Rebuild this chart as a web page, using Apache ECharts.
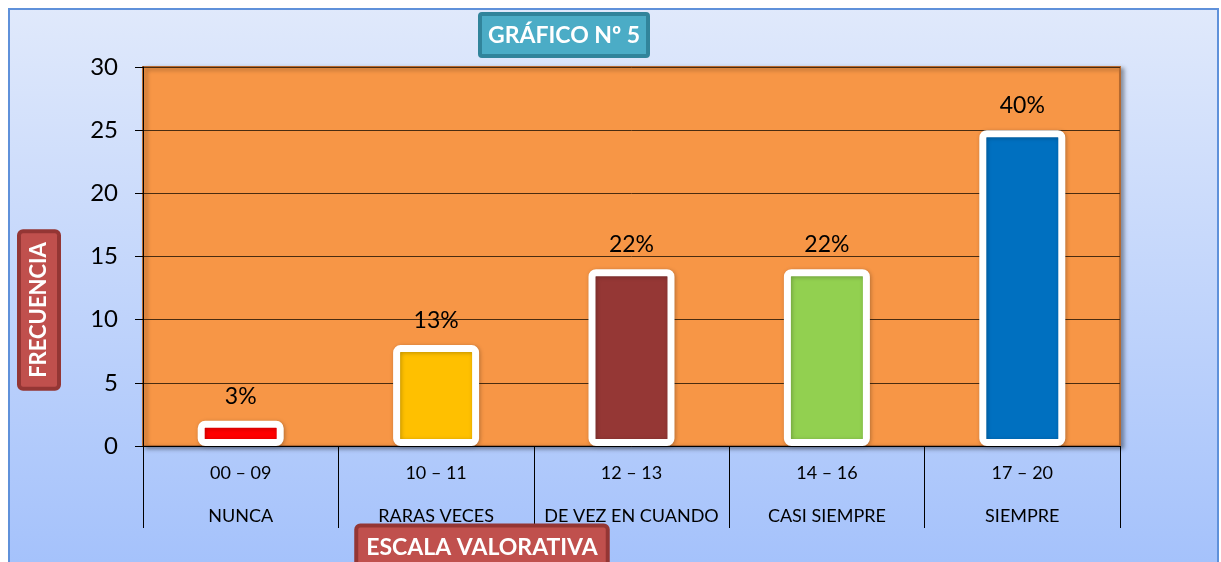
<!DOCTYPE html>
<html>
<head>
<meta charset="utf-8">
<script src="https://cdn.jsdelivr.net/npm/echarts@6/dist/echarts.min.js"></script>
<style>
html,body{margin:0;padding:0;background:#fff;}
#main{width:1221px;height:562px;}
</style>
</head>
<body>
<div id="main"></div>
<script>
const rangeCodes = ['00 – 09', '10 – 11', '12 – 13', '14 – 16', '17 – 20'];
const scaleNames = ['NUNCA', 'RARAS VECES', 'DE VEZ EN CUANDO', 'CASI SIEMPRE', 'SIEMPRE'];
const frequencies = [2, 8, 14, 14, 25];
const percentLabels = ['3%', '13%', '22%', '22%', '40%'];
const barColors = ['#FF0000', '#FFC000', '#953735', '#92D050', '#0070C0'];
const yTicks = [0, 5, 10, 15, 20, 25, 30];

const FONT = 'Lato, "Open Sans", sans-serif';
const chart = echarts.init(document.getElementById('main'));

const categories = rangeCodes.map((c, i) => c + '\n' + scaleNames[i]);

chart.setOption({
  animation: false,
  backgroundColor: '#ffffff',
  textStyle: { fontFamily: FONT },
  title: {
    text: 'GRÁFICO Nº 5',
    left: 480,
    top: 14,
    backgroundColor: '#4BACC6',
    borderColor: '#31849B',
    borderWidth: 4,
    borderRadius: 2,
    padding: [10, 8, 9, 8],
    textStyle: { color: '#ffffff', fontSize: 23, fontWeight: 'bold', fontFamily: FONT }
  },
  grid: {
    left: 143, right: 101, top: 67, bottom: 116,
    show: true,
    backgroundColor: '#F79646',
    borderColor: '#B5692F',
    borderWidth: 2,
    shadowColor: 'rgba(0,0,0,0.35)',
    shadowBlur: 4,
    shadowOffsetX: 3,
    shadowOffsetY: 2
  },
  xAxis: {
    type: 'category',
    data: categories,
    axisLine: { show: true, lineStyle: { color: '#000', width: 1 } },
    axisTick: { show: true, length: 82, interval: 0, lineStyle: { color: '#000', width: 1 } },
    axisLabel: {
      interval: 0,
      margin: 6,
      color: '#000',
      fontSize: 18,
      lineHeight: 43,
      fontFamily: FONT
    }
  },
  yAxis: {
    type: 'value',
    min: yTicks[0],
    max: yTicks[yTicks.length - 1],
    interval: 5,
    axisLine: { show: true, lineStyle: { color: '#000', width: 1 } },
    axisTick: { show: true, length: 8, lineStyle: { color: '#000' } },
    axisLabel: { color: '#000', fontSize: 24, margin: 25, fontFamily: FONT },
    splitLine: { show: true, lineStyle: { color: '#4a2c10', width: 1 } }
  },
  series: [{
    type: 'bar',
    barWidth: 86,
    data: frequencies.map((v, i) => ({
      value: v,
      itemStyle: { color: barColors[i] },
      label: { formatter: percentLabels[i] }
    })),
    itemStyle: {
      borderColor: '#ffffff',
      borderWidth: 7,
      borderRadius: 4,
      shadowColor: 'rgba(0,0,0,0.25)',
      shadowBlur: 4,
      shadowOffsetX: 1,
      shadowOffsetY: 1
    },
    label: {
      show: true,
      position: 'top',
      distance: 13,
      color: '#000',
      fontSize: 23,
      fontFamily: FONT
    }
  }],
  graphic: [
    {
      type: 'rect', z: -100, silent: true,
      shape: { x: 9, y: 9, width: 1209, height: 580 },
      style: {
        fill: new echarts.graphic.LinearGradient(0, 0, 0, 1, [
          { offset: 0, color: '#E0E9FB' },
          { offset: 1, color: '#A2C0FB' }
        ]),
        stroke: '#5F91DA',
        lineWidth: 2
      }
    },
    {
      type: 'text', z: 100,
      x: 39, y: 310,
      rotation: Math.PI / 2,
      style: {
        text: 'FRECUENCIA',
        fill: '#ffffff',
        font: 'bold 22px ' + FONT,
        align: 'center',
        verticalAlign: 'middle',
        backgroundColor: '#C0504D',
        borderColor: '#943634',
        borderWidth: 4,
        borderRadius: 2,
        padding: [8, 9, 6, 9]
      }
    },
    {
      type: 'text', z: 100,
      x: 482, y: 548,
      style: {
        text: 'ESCALA VALORATIVA',
        fill: '#ffffff',
        font: 'bold 23px ' + FONT,
        align: 'center',
        verticalAlign: 'middle',
        backgroundColor: '#C0504D',
        borderColor: '#943634',
        borderWidth: 4,
        borderRadius: 2,
        padding: [8, 8, 10, 8]
      }
    }
  ]
});
</script>
</body>
</html>
